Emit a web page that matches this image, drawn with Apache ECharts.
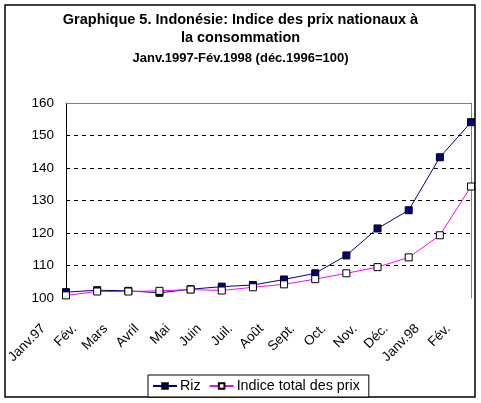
<!DOCTYPE html>
<html>
<head>
    <meta charset="utf-8">
    <title>Indonésie: Indice des prix</title>
    <script src="https://cdn.jsdelivr.net/npm/echarts@6/dist/echarts.min.js"></script>
    <style>
        body { margin: 0; background: #fff; }
    </style>
</head>
<body>
    <div id="chart" style="width:481px; height:403px;"></div>
    <script>
        // mois
        var months = ['Janv.97', 'Fév.', 'Mars', 'Avril', 'Mai', 'Juin', 'Juil.', 'Août',
                      'Sept.', 'Oct.', 'Nov.', 'Déc.', 'Janv.98', 'Fév.'];
        // indice du riz
        var riz = [101.8, 102.4, 102.2, 101.6, 102.7, 103.5, 104.0, 105.7, 107.6, 113.1, 121.4, 127.0, 143.3, 154.1];
        // indice total des prix
        var indiceTotal = [100.8, 102.0, 102.0, 102.2, 102.6, 102.3, 103.3, 104.2, 105.8, 107.6, 109.5, 112.5, 119.3, 134.3];
        var yTicks = [100, 160, 10]; // min, max, pas

        var font = 'Arial, "Liberation Sans", sans-serif';
        var chart = echarts.init(document.getElementById('chart'));
        var option = {
            animation: false,
            title: {
                text: 'Graphique 5. Indonésie: Indice des prix nationaux à\nla consommation',
                subtext: 'Janv.1997-Fév.1998 (déc.1996=100)',
                left: 'center',
                top: 6,
                itemGap: 3,
                textStyle: { fontFamily: font, fontSize: 14.5, fontWeight: 'bold', color: '#000', lineHeight: 18 },
                subtextStyle: { fontFamily: font, fontSize: 13, fontWeight: 'bold', color: '#000', lineHeight: 17 }
            },
            graphic: [{
                type: 'rect',
                shape: { x: 5, y: 5, width: 470, height: 392 },
                style: { fill: null, stroke: '#000', lineWidth: 1.5 },
                z: -1
            }],
            legend: {
                left: 148,
                top: 375,
                padding: [4, 9, 4, 4],
                itemWidth: 24,
                itemHeight: 7,
                itemGap: 8,
                borderColor: '#000',
                borderWidth: 1,
                backgroundColor: '#fff',
                textStyle: { fontFamily: font, fontSize: 14.3, color: '#000', padding: [0, 0, 0, -2] },
                data: ['Riz', 'Indice total des prix']
            },
            grid: { left: 66, right: 10, top: 103, bottom: 105 },
            xAxis: [{
                type: 'category',
                data: months,
                boundaryGap: false,
                axisLine: { show: false },
                axisTick: { show: false },
                axisLabel: {
                    rotate: 45,
                    interval: 0,
                    margin: 6,
                    fontFamily: font,
                    fontSize: 13.5,
                    color: '#000',
                    padding: [0, 32, 0, 0]
                }
            }, {
                type: 'category',
                data: months,
                position: 'top',
                boundaryGap: false,
                axisLine: { show: true, lineStyle: { color: '#808080', width: 1 } },
                axisTick: { show: false },
                axisLabel: { show: false },
                z: 5
            }],
            yAxis: [{
                type: 'value',
                min: yTicks[0],
                max: yTicks[1],
                interval: yTicks[2],
                axisLine: { show: true, lineStyle: { color: '#000', width: 1 } },
                axisTick: { show: false },
                axisLabel: { margin: 12, fontFamily: font, fontSize: 13.5, color: '#000' },
                splitLine: {
                    show: true,
                    showMinLine: false,
                    showMaxLine: false,
                    lineStyle: { color: '#000', type: [4, 4], width: 1 }
                }
            }, {
                type: 'value',
                min: yTicks[0],
                max: yTicks[1],
                interval: yTicks[2],
                position: 'right',
                axisLine: { show: true, lineStyle: { color: '#808080', width: 1 } },
                axisTick: { show: false },
                axisLabel: { show: false },
                splitLine: { show: false }
            }],
            series: [{
                name: 'Riz',
                type: 'line',
                data: riz,
                symbol: 'rect',
                symbolSize: 7,
                lineStyle: { color: '#000080', width: 1 },
                itemStyle: { color: '#000080', borderColor: '#000', borderWidth: 1 },
                z: 3
            }, {
                name: 'Indice total des prix',
                type: 'line',
                data: indiceTotal,
                symbol: 'rect',
                symbolSize: 7,
                lineStyle: { color: '#ff00ff', width: 1 },
                itemStyle: { color: '#fff', borderColor: '#000', borderWidth: 1 },
                z: 4
            }]
        };
        chart.setOption(option);
    </script>
</body>
</html>
